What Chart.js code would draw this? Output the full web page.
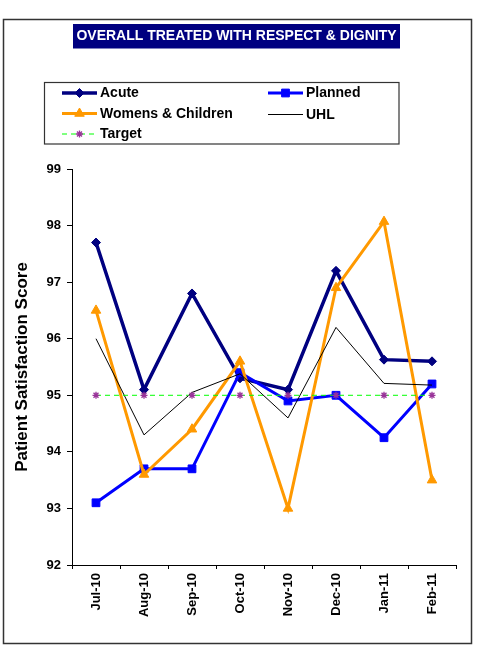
<!DOCTYPE html>
<html>
<head>
<meta charset="utf-8">
<title>Overall treated with respect &amp; dignity</title>
<script src="https://cdn.jsdelivr.net/npm/chart.js@4.4.1/dist/chart.umd.min.js"></script>
<style>
  html, body { margin: 0; padding: 0; background: #ffffff; }
  canvas { display: block; }
</style>
</head>
<body>
<canvas id="chart" width="478" height="652"></canvas>
<script>
// Monthly patient satisfaction scores by division
const months = ['Jul-10', 'Aug-10', 'Sep-10', 'Oct-10', 'Nov-10', 'Dec-10', 'Jan-11', 'Feb-11'];
const acute = [97.7, 95.1, 96.8, 95.3, 95.1, 97.2, 95.63, 95.6];
const planned = [93.1, 93.7, 93.7, 95.4, 94.9, 95.0, 94.25, 95.2];
const womensChildren = [96.5, 93.6, 94.4, 95.6, 93.0, 96.9, 98.07, 93.5];
const uhl = [96.0, 94.3, 95.05, 95.38, 94.6, 96.2, 95.21, 95.18];
const target = [95, 95, 95, 95, 95, 95, 95, 95];
const yTicks = [92, 93, 94, 95, 96, 97, 98, 99];

const chartTitle = 'OVERALL TREATED WITH RESPECT & DIGNITY';
const yTitle = 'Patient Satisfaction Score';

const FONT = '"Liberation Sans", Arial, Helvetica, sans-serif';
const NARROW = '"Liberation Sans Narrow", "Arial Narrow", "Liberation Sans", Arial, sans-serif';

// Frame, title banner and two-column legend drawn around the plot
const decorations = {
  id: 'decorations',
  beforeDraw(chart) {
    const ctx = chart.ctx;
    ctx.save();
    ctx.fillStyle = '#ffffff';
    ctx.fillRect(0, 0, chart.width, chart.height);
    ctx.strokeStyle = '#333333';
    ctx.lineWidth = 1.5;
    ctx.strokeRect(3.5, 19.5, 468, 624);
    ctx.restore();
  },
  afterDraw(chart) {
    const ctx = chart.ctx;
    ctx.save();
    // title banner
    ctx.fillStyle = '#000080';
    ctx.fillRect(73, 24, 327, 24.5);
    ctx.fillStyle = '#ffffff';
    ctx.font = 'bold 14px ' + FONT;
    ctx.textAlign = 'center';
    ctx.textBaseline = 'middle';
    ctx.fillText(chartTitle, 236.5, 36.5);

    // legend box
    ctx.strokeStyle = '#333333';
    ctx.lineWidth = 1.2;
    ctx.strokeRect(44.5, 82.5, 354.5, 61.5);

    const slots = [
      { x0: 62, x1: 97, y: 93 },
      { x0: 268, x1: 303, y: 93 },
      { x0: 62, x1: 97, y: 113.5 },
      { x0: 268, x1: 303, y: 114.5 },
      { x0: 62, x1: 97, y: 134 }
    ];
    ctx.font = 'bold 14px ' + FONT;
    ctx.textAlign = 'left';
    ctx.textBaseline = 'middle';
    chart.data.datasets.forEach((ds, i) => {
      const s = slots[i];
      ctx.save();
      ctx.strokeStyle = ds.borderColor;
      ctx.lineWidth = ds.borderWidth;
      ctx.setLineDash(ds.borderDash || []);
      ctx.beginPath();
      ctx.moveTo(s.x0, s.y);
      ctx.lineTo(s.x1, s.y);
      ctx.stroke();
      ctx.restore();
      if (ds.pointRadius > 0) {
        ctx.save();
        ctx.fillStyle = ds.pointBackgroundColor;
        ctx.strokeStyle = ds.pointBorderColor;
        ctx.lineWidth = ds.pointBorderWidth;
        Chart.helpers.drawPoint(ctx, {
          pointStyle: ds.pointStyle,
          radius: ds.pointRadius,
          rotation: 0,
          borderWidth: ds.pointBorderWidth
        }, (s.x0 + s.x1) / 2, s.y);
        ctx.restore();
      }
      ctx.fillStyle = '#000000';
      ctx.fillText(ds.label, s.x1 + 3, s.y + 0.5);
    });
    ctx.restore();
  }
};

new Chart(document.getElementById('chart'), {
  type: 'line',
  data: {
    labels: months,
    datasets: [
      {
        label: 'Acute',
        data: acute,
        borderColor: '#000080',
        backgroundColor: '#000080',
        borderWidth: 3.5,
        pointStyle: 'rectRot',
        pointRadius: 4.5,
        pointBackgroundColor: '#000080',
        pointBorderColor: '#000080',
        pointBorderWidth: 1,
        order: 5
      },
      {
        label: 'Planned',
        data: planned,
        borderColor: '#0000ff',
        backgroundColor: '#0000ff',
        borderWidth: 3,
        pointStyle: 'rect',
        pointRadius: 5.5,
        pointBackgroundColor: '#0000ff',
        pointBorderColor: '#0000ff',
        pointBorderWidth: 1,
        order: 4
      },
      {
        label: 'Womens & Children',
        data: womensChildren,
        borderColor: '#ff9900',
        backgroundColor: '#ff9900',
        borderWidth: 3,
        pointStyle: 'triangle',
        pointRadius: 5.5,
        pointBackgroundColor: '#ff9900',
        pointBorderColor: '#ff9900',
        pointBorderWidth: 1,
        order: 3
      },
      {
        label: 'UHL',
        data: uhl,
        borderColor: '#000000',
        backgroundColor: '#000000',
        borderWidth: 1,
        pointRadius: 0,
        pointBackgroundColor: '#000000',
        pointBorderColor: '#000000',
        pointBorderWidth: 0,
        order: 2
      },
      {
        label: 'Target',
        data: target,
        borderColor: '#00ff00',
        backgroundColor: '#993399',
        borderWidth: 1,
        borderDash: [5, 4],
        pointStyle: 'star',
        pointRadius: 3.5,
        pointBackgroundColor: '#993399',
        pointBorderColor: '#993399',
        pointBorderWidth: 1.3,
        order: 1
      }
    ]
  },
  options: {
    responsive: false,
    animation: false,
    devicePixelRatio: 1,
    layout: { padding: { left: 0, top: 169, right: 22, bottom: 0 } },
    elements: { line: { tension: 0 } },
    plugins: {
      legend: { display: false },
      title: { display: false },
      tooltip: { enabled: false }
    },
    scales: {
      x: {
        type: 'category',
        offset: true,
        afterFit(scale) { scale.height = 87; },
        grid: {
          offset: true,
          drawOnChartArea: false,
          drawTicks: true,
          tickLength: 4,
          color: '#000000'
        },
        border: { display: true, color: '#000000', width: 1 },
        ticks: {
          autoSkip: false,
          minRotation: 90,
          maxRotation: 90,
          padding: 4,
          color: '#000000',
          font: { family: NARROW, size: 13, weight: 'bold' }
        }
      },
      y: {
        min: 92,
        max: 99,
        afterFit(scale) { scale.width = 72; },
        afterBuildTicks(scale) { scale.ticks = yTicks.map(v => ({ value: v })); },
        grid: {
          drawOnChartArea: false,
          drawTicks: true,
          tickLength: 5,
          color: '#000000'
        },
        border: { display: true, color: '#000000', width: 1 },
        ticks: {
          padding: 6,
          color: '#000000',
          font: { family: FONT, size: 13, weight: 'bold' }
        },
        title: {
          display: true,
          text: yTitle,
          color: '#000000',
          padding: { top: 12, bottom: 0 },
          font: { family: FONT, size: 17, weight: 'bold' }
        }
      }
    }
  },
  plugins: [decorations]
});
</script>
</body>
</html>
